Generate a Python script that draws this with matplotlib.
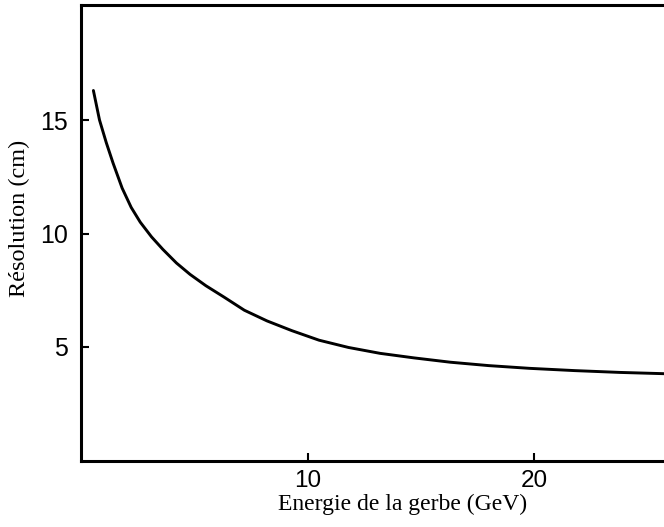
import numpy as np
import matplotlib
matplotlib.use("Agg")
import matplotlib.pyplot as plt

# shower energy (GeV) and position resolution (cm)
energy = [0.53, 0.8, 1.1, 1.4, 1.8, 2.2, 2.6, 3.1, 3.6, 4.2, 4.8, 5.5, 6.3,
          7.2, 8.2, 9.3, 10.5, 11.8, 13.2, 14.7, 16.3, 18.0, 19.8, 21.8,
          23.8, 25.9]
resolution = [16.3, 15.0, 14.0, 13.1, 12.0, 11.15, 10.5, 9.85, 9.3, 8.7, 8.2,
              7.7, 7.2, 6.62, 6.15, 5.72, 5.3, 4.98, 4.72, 4.52, 4.33, 4.18,
              4.06, 3.96, 3.88, 3.82]

xticks = [10, 20]
yticks = [5, 10, 15]

W, H = 664, 527
fig = plt.figure(figsize=(W / 100, H / 100), dpi=100)
ax = fig.add_axes([81.4 / W, 1 - 460.5 / H, 1 - 81.4 / W, (460.5 - 5) / H])

ax.plot(energy, resolution, color="black", lw=2.1,
        solid_capstyle="round", solid_joinstyle="round")

ax.set_xlim(0, (W - 81.4) / 22.63)
ax.set_ylim(0, (460.5 - 5) / 22.7)
ax.set_xticks(xticks)
ax.set_yticks(yticks)

for s in ("left", "bottom", "top"):
    ax.spines[s].set_linewidth(2.2)
ax.spines["right"].set_visible(False)

ax.tick_params(direction="in", length=6, width=1.5, top=False, right=False)
ax.tick_params(axis="x", pad=7, labelsize=17.5)
ax.tick_params(axis="y", pad=10, labelsize=18)
for lab in ax.get_xticklabels() + ax.get_yticklabels():
    lab.set_family("Liberation Sans")

fig.text(402.5 / W, 1 - 510 / H, "Energie de la gerbe (GeV)",
         family="Liberation Serif", fontsize=17, ha="center", va="baseline")
fig.text(19 / W, 1 - 218.5 / H, "Résolution (cm)",
         family="Liberation Serif", fontsize=17.5, rotation=90,
         ha="center", va="center")

fig.savefig("out.png", dpi=100)
